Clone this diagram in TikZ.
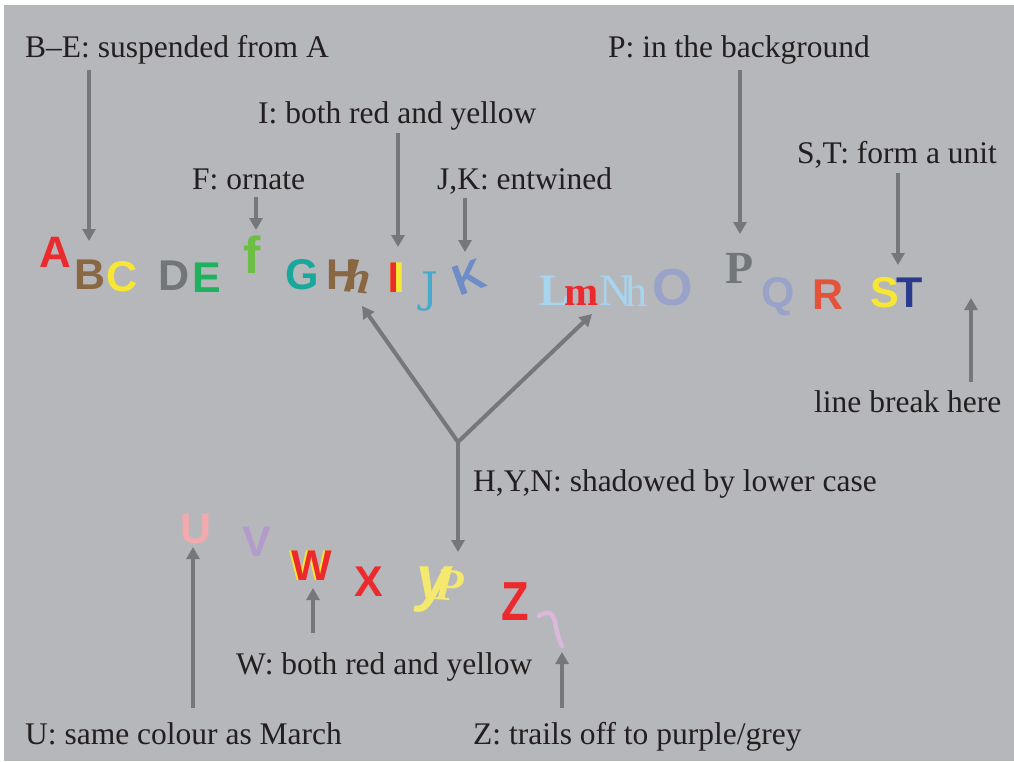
\documentclass[tikz,border=0pt]{standalone}
\usepackage{fontspec}
\setmainfont{Liberation Serif}
\newfontfamily\lsans{Liberation Sans}
\newfontfamily\djserif{DejaVu Serif}
\usetikzlibrary{arrows.meta}

\definecolor{panel}{HTML}{B6B7BA}
\definecolor{pointer}{HTML}{76777A}
\definecolor{ink}{HTML}{231F20}
\definecolor{cRed}{HTML}{EC2A2E}
\definecolor{cBrown}{HTML}{8A6743}
\definecolor{cYellow}{HTML}{F7E634}
\definecolor{cGrey}{HTML}{737679}
\definecolor{cGreen}{HTML}{1EB25F}
\definecolor{cLime}{HTML}{6DBE45}
\definecolor{cTeal}{HTML}{17A79B}
\definecolor{cSky}{HTML}{47A9CC}
\definecolor{cBlue}{HTML}{6E8CC5}
\definecolor{cPale}{HTML}{A7D4EF}
\definecolor{cLav}{HTML}{99A2C9}
\definecolor{cOrange}{HTML}{E2533A}
\definecolor{cNavy}{HTML}{2B3A8F}
\definecolor{cPink}{HTML}{F2AAAE}
\definecolor{cViolet}{HTML}{B39BCC}
\definecolor{cCream}{HTML}{F4E96E}
\definecolor{cMauve}{HTML}{D9B8DB}

\begin{document}
\begin{tikzpicture}[x=1pt,y=-1pt,
  lbl/.style={anchor=base west, inner sep=0pt, text=ink,
              font=\fontsize{31.5}{36}\selectfont},
  glyph/.style={anchor=base, inner sep=0pt,
              font=\lsans\bfseries\fontsize{43}{48}\selectfont},
  serifglyph/.style={anchor=base, inner sep=0pt,
              font=\bfseries\fontsize{45}{50}\selectfont},
  ptr/.style={draw=pointer, line width=4pt,
              -{Triangle[width=13pt,length=12pt]}}]

\useasboundingbox (0,0) rectangle (1014,761);
\fill[white] (0,0) rectangle (1014,761);
\fill[panel] (4,5) rectangle (1014,761);

% ---- upper row of letters ----
\node[glyph, text=cRed, font=\lsans\bfseries\fontsize{44}{48}\selectfont] (A) at (55,267) {A};
\node[glyph, text=cBrown]  (B) at (90,289) {B};
\node[glyph, text=cYellow] (C) at (122,291) {C};
\node[glyph, text=cGrey]   (D) at (174,290) {D};
\node[glyph, text=cGreen]  (E) at (207,292) {E};
\node[glyph, text=cLime, font=\lsans\bfseries\fontsize{52}{56}\selectfont] (F) at (252,273) {f};
\node[glyph, text=cTeal]   (G) at (302,289) {G};
\node[glyph, text=cBrown]  (H) at (342,289) {H};
\node[anchor=base, inner sep=0pt, text=cBrown, rotate=-6,
      font=\bfseries\itshape\fontsize{47}{50}\selectfont] (Hlow) at (356,293) {h};
% the I: yellow letter with its left part in red
\node[glyph, text=cYellow] (I) at (396.5,292) {\scalebox{1.85}[1]{I}};
\begin{scope}
  \clip (385,250) rectangle (395.5,300);
  \node[glyph, text=cRed] (Ired) at (396.5,292) {\scalebox{1.85}[1]{I}};
\end{scope}
\node[anchor=base, inner sep=0pt, text=cSky,
      font=\djserif\fontsize{42}{46}\selectfont] (J) at (430,302) {J};
\node[glyph, anchor=center, text=cBlue, rotate=20] (K) at (469,277) {K};
\node[serifglyph, text=cPale] (L) at (554,305) {L};
\node[serifglyph, text=cRed, font=\bfseries\fontsize{41}{44}\selectfont] (m) at (582,305) {m};
\node[anchor=base, inner sep=0pt, text=cPale,
      font=\fontsize{45}{50}\selectfont] (N) at (616,305) {N};
\node[anchor=base, inner sep=0pt, text=cPale,
      font=\fontsize{44}{48}\selectfont] (Nlow) at (636,306) {h};
\node[glyph, text=cLav, font=\lsans\bfseries\fontsize{52}{56}\selectfont] (O) at (673,305) {O};
\node[serifglyph, text=cGrey, font=\bfseries\fontsize{46}{50}\selectfont] (P) at (740,283) {P};
\node[glyph, text=cLav]    (Q) at (778,307) {Q};
\node[glyph, text=cOrange] (R) at (828,309) {R};
\node[glyph, text=cYellow] (S) at (885,307) {S};
\node[glyph, text=cNavy]   (T) at (910,307) {T};

% ---- lower row of letters ----
\node[glyph, text=cPink]   (U) at (196,543) {U};
\node[glyph, text=cViolet] (V) at (257,556) {V};
\node[glyph, text=cYellow] (Wshade) at (309.5,580) {W};
\node[glyph, text=cRed]    (W) at (311.5,580) {W};
\node[glyph, text=cRed]    (X) at (369,596) {X};
\node[anchor=base, inner sep=0pt, text=cCream,
      font=\lsans\bfseries\itshape\fontsize{62}{66}\selectfont] (ylow) at (434,599) {y};
\node[anchor=base, inner sep=0pt, text=cCream, rotate=-4,
      font=\bfseries\itshape\fontsize{46}{50}\selectfont] (Y) at (449,600) {P};
\node[glyph, text=cRed, font=\lsans\bfseries\fontsize{55}{60}\selectfont] (Z) at (515,620) {\scalebox{0.82}[1]{Z}};
\draw[cMauve, line width=4.5pt, line cap=round]
  (539,616) .. controls (546,611) and (553,611) .. (555,622)
            .. controls (557,633) and (559,640) .. (562,646);

% ---- captions ----
\node[lbl] (capBE) at (25,57)   {B--E: suspended from A};
\node[lbl] (capP)  at (608,57)  {P: in the background};
\node[lbl] (capI)  at (258,123) {I: both red and yellow};
\node[lbl] (capST) at (797,163) {S,T: form a unit};
\node[lbl] (capF)  at (192,189) {F: ornate};
\node[lbl] (capJK) at (437,189) {J,K: entwined};
\node[lbl] (capLB) at (814,412) {line break here};
\node[lbl] (capHYN) at (473,491) {H,Y,N: shadowed by lower case};
\node[lbl] (capW)  at (236,674) {W: both red and yellow};
\node[lbl] (capU)  at (25,744)  {U: same colour as March};
\node[lbl] (capZ)  at (473,744) {Z: trails off to purple/grey};

% ---- pointer ends ----
\coordinate (sBE) at (89,70);   \coordinate (tBE) at (89,241);
\coordinate (sF)  at (256,197); \coordinate (tF)  at (256,230);
\coordinate (sI)  at (398,133); \coordinate (tI)  at (398,247);
\coordinate (sJK) at (465,198); \coordinate (tJK) at (465,252);
\coordinate (sP)  at (740,70);  \coordinate (tP)  at (740,234);
\coordinate (sST) at (898,173); \coordinate (tST) at (898,265);
\coordinate (sLB) at (971,382); \coordinate (tLB) at (971,298);
\coordinate (fork) at (458,442);
\coordinate (tH)  at (362,306); \coordinate (tN)  at (592,314);
\coordinate (tY)  at (458,552);
\coordinate (sU)  at (193,708); \coordinate (tU)  at (193,547);
\coordinate (sW)  at (313,633); \coordinate (tW)  at (313,588);
\coordinate (sZ)  at (562,708); \coordinate (tZ)  at (562,652);

% ---- pointers ----
\draw[ptr] (sBE) -- (tBE);
\draw[ptr] (sF)  -- (tF);
\draw[ptr] (sI)  -- (tI);
\draw[ptr] (sJK) -- (tJK);
\draw[ptr] (sP)  -- (tP);
\draw[ptr] (sST) -- (tST);
\draw[ptr] (sLB) -- (tLB);
\draw[ptr] (fork) -- (tH);
\draw[ptr] (fork) -- (tN);
\draw[ptr] (fork) -- (tY);
\draw[ptr] (sU) -- (tU);
\draw[ptr] (sW) -- (tW);
\draw[ptr] (sZ) -- (tZ);
\end{tikzpicture}
\end{document}
